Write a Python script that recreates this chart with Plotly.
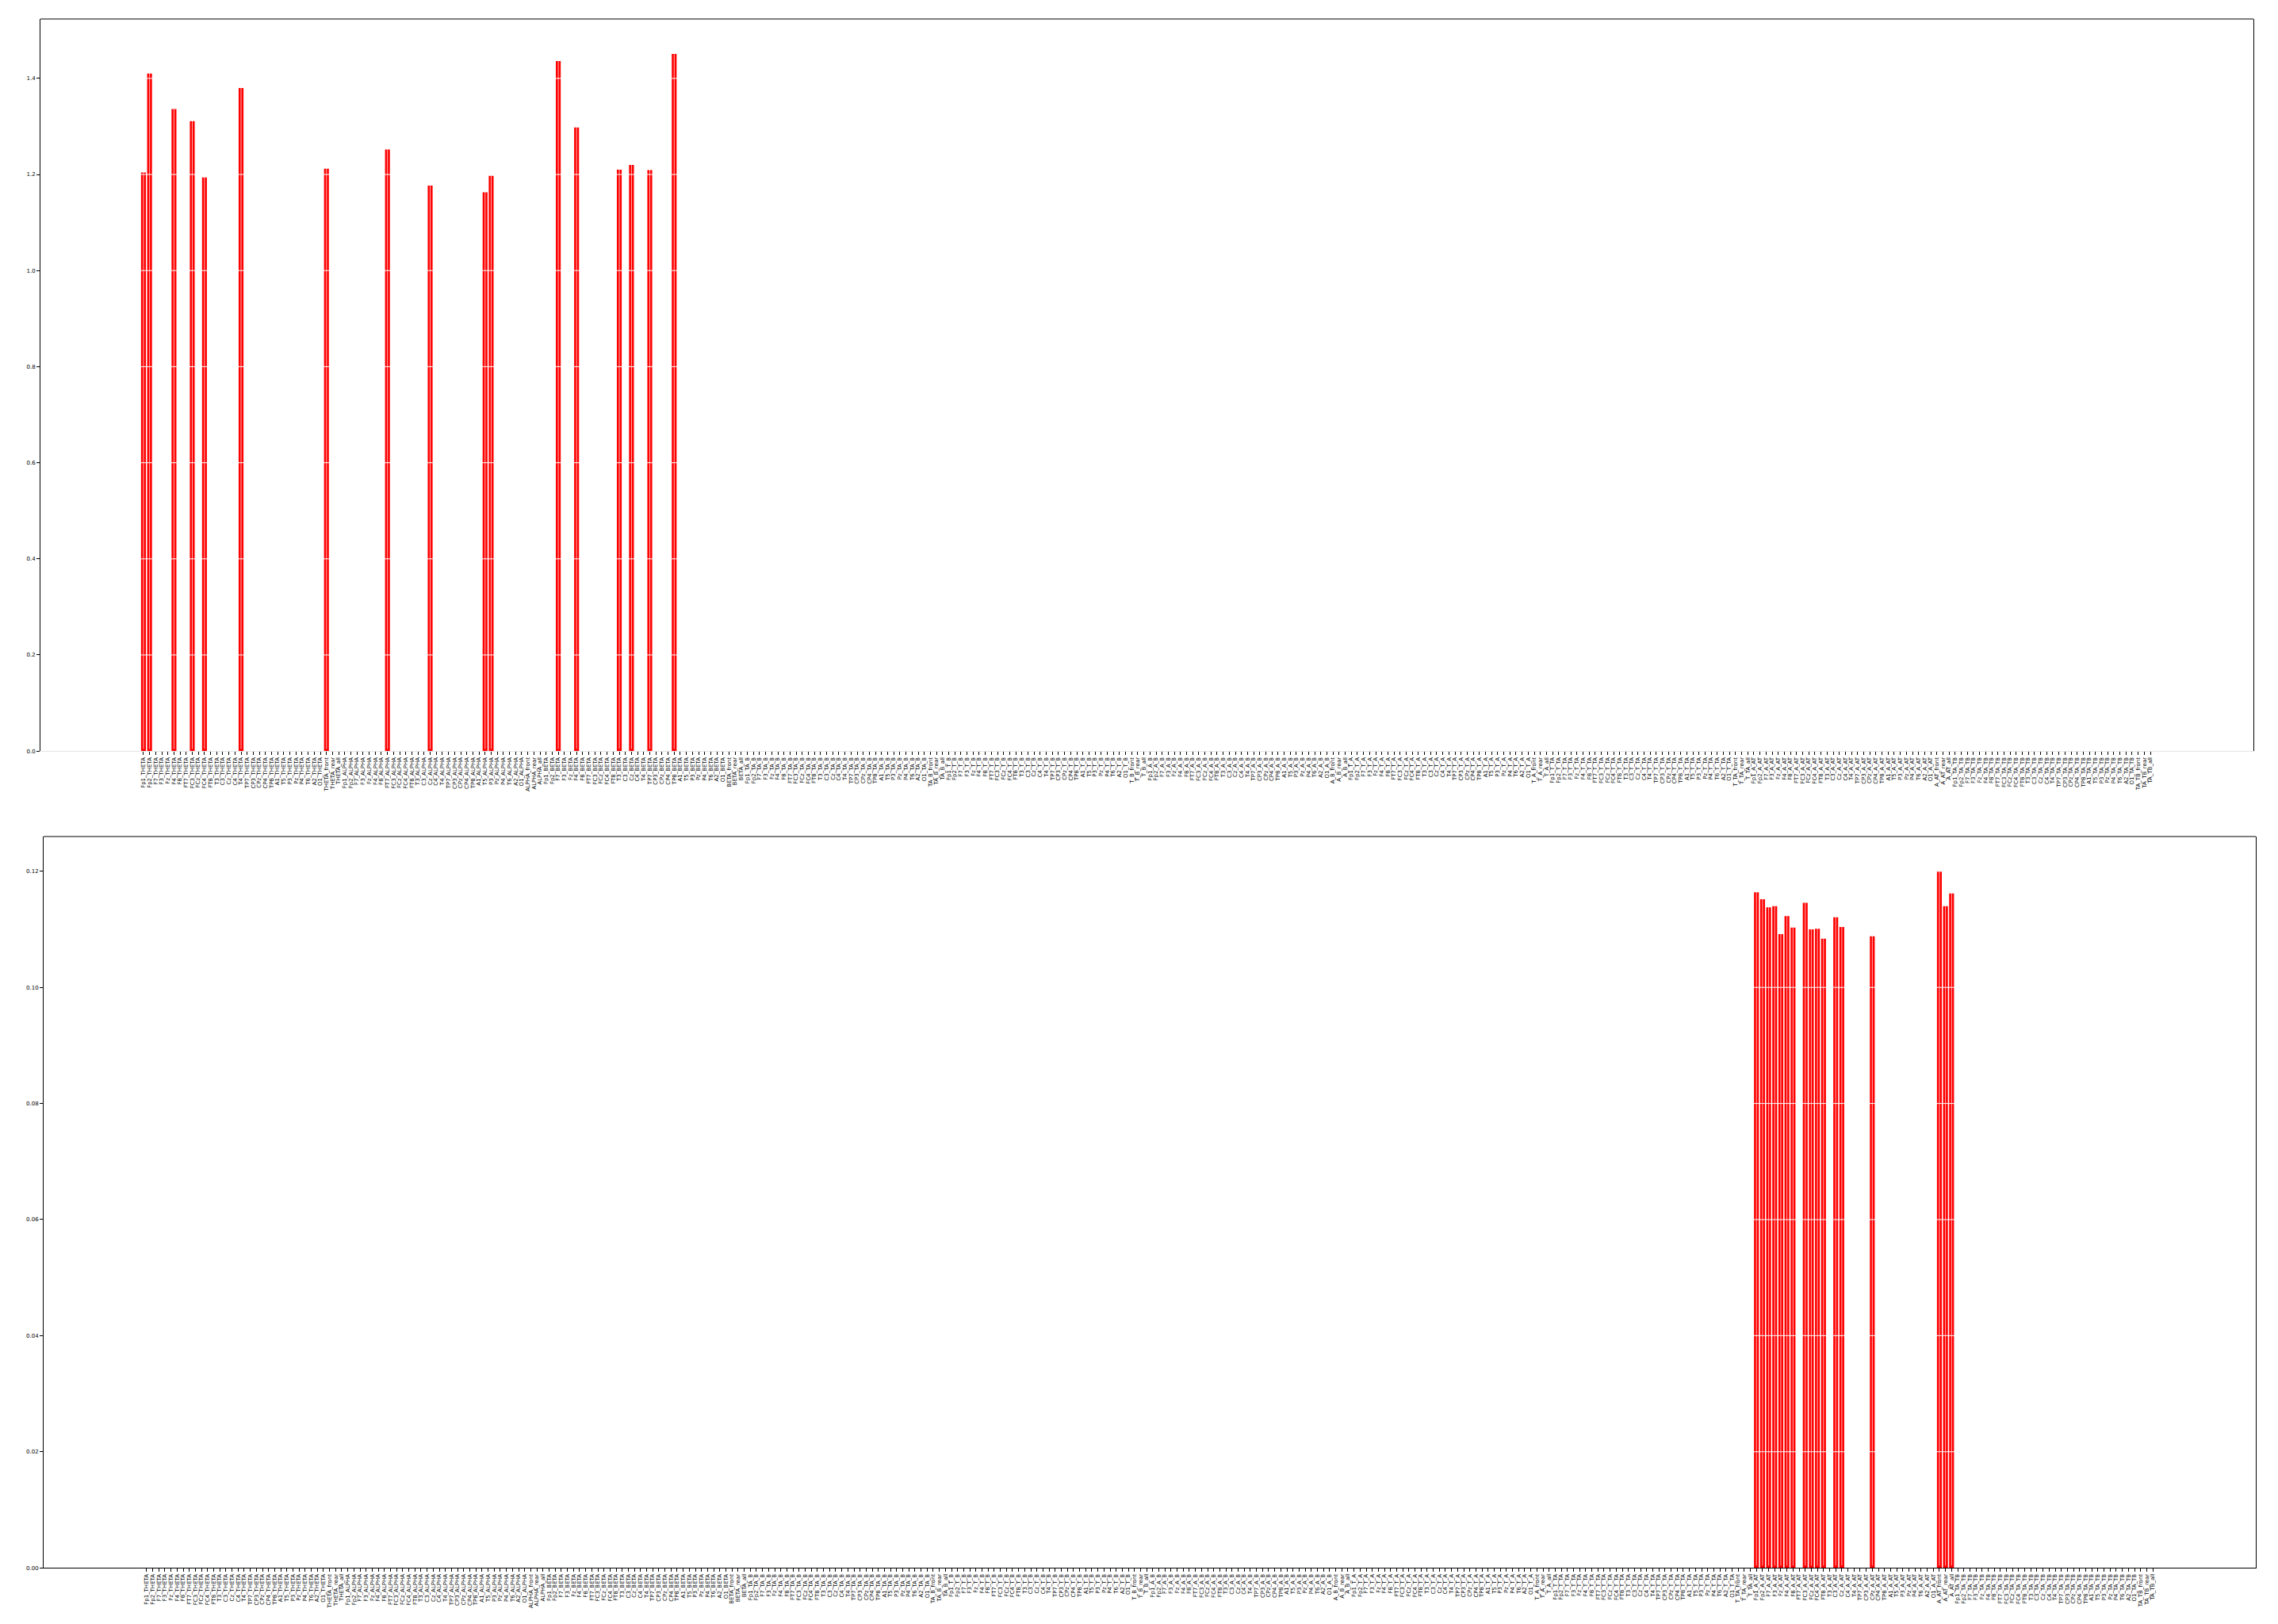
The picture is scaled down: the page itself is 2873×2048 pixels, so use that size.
import plotly.graph_objects as go

# ---------------- data ----------------
channels = ["Fp1", "Fp2", "F7", "F3", "Fz", "F4", "F8", "FT7", "FC3", "FCz", "FC4", "FT8",
            "T3", "C3", "Cz", "C4", "T4", "TP7", "CP3", "CPz", "CP4", "TP8", "A1", "T5",
            "P3", "Pz", "P4", "T6", "A2", "O1"]
features = ["THETA", "ALPHA", "BETA", "TA_B", "T_B", "A_B", "T_A", "T_TA", "A_AT", "TA_TB"]
regions = ["front", "rear", "all"]

categories = []
for f in features:
    categories += [f"{c}_{f}" for c in channels]
    categories += [f"{f}_{r}" for r in regions]

top_labels = ["Fp1_THETA", "Fp2_THETA", "F4_THETA", "FC3_THETA", "FC4_THETA", "T4_THETA",
              "THETA_front", "FT7_ALPHA", "Cz_ALPHA", "T5_ALPHA", "P3_ALPHA", "F7_BETA",
              "F4_BETA", "T3_BETA", "Cz_BETA", "TP7_BETA", "TP8_BETA"]
top_values = [1.204, 1.410, 1.336, 1.311, 1.194, 1.380, 1.212, 1.252, 1.177, 1.163,
              1.197, 1.436, 1.298, 1.210, 1.220, 1.209, 1.451]

bottom_labels = ["Fp1_A_AT", "Fp2_A_AT", "F7_A_AT", "F3_A_AT", "Fz_A_AT", "F4_A_AT",
                 "F8_A_AT", "FC3_A_AT", "FCz_A_AT", "FC4_A_AT", "FT8_A_AT", "C3_A_AT",
                 "Cz_A_AT", "CPz_A_AT", "A_AT_front", "A_AT_rear", "A_AT_all"]
bottom_values = [0.1164, 0.1152, 0.1138, 0.1140, 0.1092, 0.1123, 0.1103, 0.1146, 0.1100,
                 0.1101, 0.1084, 0.1121, 0.1104, 0.1088, 0.1200, 0.1140, 0.1162]

top_yticks = [0.0, 0.2, 0.4, 0.6, 0.8, 1.0, 1.2, 1.4]
bottom_yticks = [0.00, 0.02, 0.04, 0.06, 0.08, 0.10, 0.12]

# ---------------- figure ----------------
OFF = 8                      # default page margin of the html body
W, H = 2873 - 2 * OFF, 2048 - 2 * OFF
n = len(categories)
pad = 0.05 * (n - 1 + 0.8)
xrange_ = [-0.4 - pad, n - 1 + 0.4 + pad]
top_max = max(top_values) * 1.05
bot_max = max(bottom_values) * 1.05

top_map = dict(zip(top_labels, top_values))
bot_map = dict(zip(bottom_labels, bottom_values))
top_y = [top_map.get(c) for c in categories]
bot_y = [bot_map.get(c) for c in categories]

fig = go.Figure()
fig.add_trace(go.Bar(x=categories, y=top_y, marker=dict(color="#ff0000", line=dict(width=0)),
                     xaxis="x", yaxis="y", showlegend=False))
fig.add_trace(go.Bar(x=categories, y=bot_y, marker=dict(color="#ff0000", line=dict(width=0)),
                     xaxis="x2", yaxis="y2", showlegend=False))

font = dict(family="DejaVu Sans", size=7, color="black")


def px_x(p):
    return (p - OFF) / W


def px_y(p):
    return 1 - (p - OFF) / H


def xaxis(domain, anchor, linecolor):
    return dict(domain=domain, anchor=anchor, type="category",
                categoryorder="array", categoryarray=categories,
                range=xrange_, tickmode="array", tickvals=categories, ticktext=categories,
                tickangle=-90, tickfont=font, ticks="outside", ticklen=4, tickwidth=1,
                tickcolor="black", showgrid=False, zeroline=False,
                showline=True, linecolor=linecolor, linewidth=1, mirror=False)


def yaxis(domain, anchor, rng, tv, fmt):
    return dict(domain=domain, anchor=anchor, range=rng, tickmode="array", tickvals=tv,
                ticktext=[format(v, fmt) for v in tv], tickfont=font, ticks="outside",
                ticklen=4, tickwidth=1, tickcolor="black", showgrid=False, zeroline=False,
                showline=True, linecolor="black", linewidth=1, mirror=True)


x1d = [px_x(51), px_x(2842)]
y1d = [px_y(949), px_y(24)]
x2d = [px_x(55), px_x(2845)]
y2d = [px_y(1981), px_y(1057)]

fig.update_layout(
    width=W, height=H, autosize=False,
    margin=dict(l=0, r=0, t=0, b=0),
    paper_bgcolor="white", plot_bgcolor="white",
    bargap=0.2, showlegend=False,
    xaxis=xaxis(x1d, "y", "#e6e6e6"),
    yaxis=yaxis(y1d, "x", [0, top_max], top_yticks, ".1f"),
    xaxis2=xaxis(x2d, "y2", "black"),
    yaxis2=yaxis(y2d, "x2", [0, bot_max], bottom_yticks, ".2f"),
)

shapes = []
# white grid lines drawn above the bars
for xr, yr, ymax, ticks in (("x", "y", top_max, top_yticks), ("x2", "y2", bot_max, bottom_yticks)):
    for c in categories:
        shapes.append(dict(type="line", xref=xr, yref=yr, x0=c, x1=c, y0=ymax * 0.003,
                           y1=ymax * 0.997, line=dict(color="white", width=0.7), layer="above"))
    for t in ticks[1:]:
        shapes.append(dict(type="line", xref=xr + " domain", yref=yr, x0=0.001, x1=0.999,
                           y0=t, y1=t, line=dict(color="white", width=1), layer="above"))
# top borders of the panels
for xd, yd in ((x1d, y1d), (x2d, y2d)):
    shapes.append(dict(type="line", xref="paper", yref="paper", x0=xd[0], x1=xd[1],
                       y0=yd[1], y1=yd[1], line=dict(color="black", width=1), layer="above"))
fig.update_layout(shapes=shapes)

fig.write_html("out.html")
